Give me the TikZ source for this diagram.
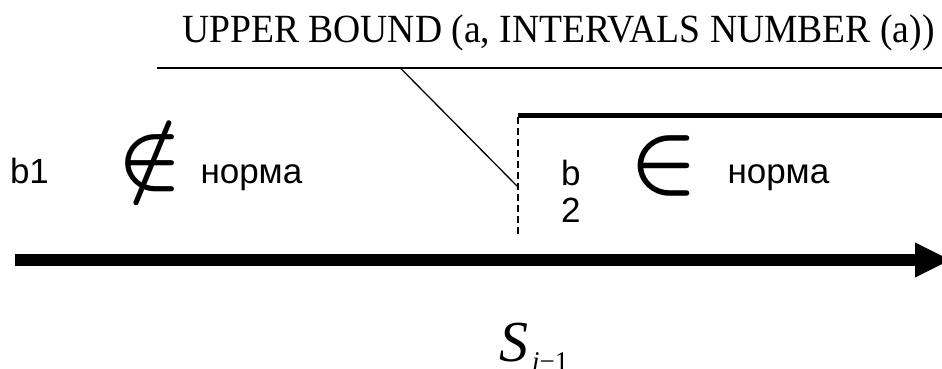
\documentclass[tikz,border=0pt]{standalone}
\usepackage{fontspec}
\setmainfont{Liberation Serif}
\newfontfamily\arialf{Liberation Sans}
\begin{document}
\begin{tikzpicture}[x=1pt,y=-1pt,
  lbl/.style={inner sep=0pt, outer sep=0pt, anchor=base west, font=\arialf\fontsize{35}{40}\selectfont},
  sym/.style={inner sep=0pt, outer sep=0pt, anchor=base},
  thinrule/.style={line width=2pt},
  leader/.style={line width=1.3pt},
  boundline/.style={line width=1.5pt, dash pattern=on 7pt off 4pt},
  thickrule/.style={line width=5pt},
  axisline/.style={line width=12pt}]
\useasboundingbox (0,0) rectangle (942,369);
% title
\node[inner sep=0pt, anchor=base west] (title) at (182,43) {\scalebox{0.94}[1]{\fontsize{40}{44}\selectfont UPPER BOUND (a, INTERVALS NUMBER (a))}};
% rules and leader
\coordinate (tl0) at (157,67.7);
\coordinate (tl1) at (946,67.7);
\draw[thinrule] (tl0) -- (tl1);
\coordinate (lead) at (400,67.7);
\coordinate (leadend) at (518,187);
\draw[leader] (lead) -- (leadend);
\coordinate (dtop) at (518,117);
\coordinate (dbot) at (518,234);
\draw[boundline] (dtop) -- (dbot);
\coordinate (tr0) at (518,115.5);
\coordinate (tr1) at (946,115.5);
\draw[thickrule] (tr0) -- (tr1);
% axis
\coordinate (ax0) at (15,260);
\coordinate (ax1) at (916,260);
\coordinate (axtip) at (950,260);
\draw[axisline] (ax0) -- (ax1);
\fill (915,242.5) -- (axtip) -- (915,277.5) -- cycle;
% labels
\node[lbl] (b1) at (10,183) {b1};
\node[sym] (notin) at (150,184) {\scalebox{8.5}{\boldmath$\notin$}};
\node[lbl] (n1) at (200.5,183) {норма};
\node[lbl] (b2) at (561,185) {b};
\node[lbl] (b2n) at (561,222) {2};
\node[sym] (isin) at (664,188) {\scalebox{9}{\boldmath$\in$}};
\node[lbl] (n2) at (727.5,183) {норма};
\node[inner sep=0pt, anchor=base west] (S) at (499,361) {\fontsize{58}{62}\selectfont\itshape S\kern4pt\raisebox{-9pt}{\fontsize{27}{30}\selectfont i\upshape −1}};
\end{tikzpicture}
\end{document}
